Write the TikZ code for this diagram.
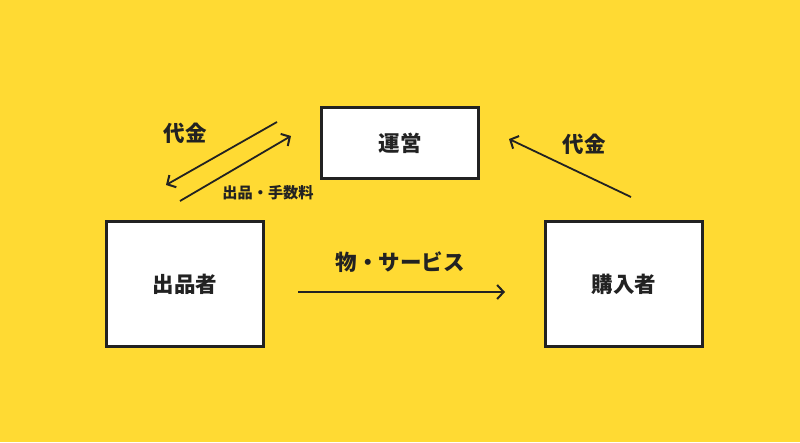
\documentclass[tikz,border=0pt]{standalone}
\usepackage{fontspec}
\usepackage{tikz}
\usetikzlibrary{arrows.meta, positioning}
\newfontfamily\jpfont{Noto Sans CJK JP}
\definecolor{bgyellow}{RGB}{255,218,51}
\definecolor{inkdark}{RGB}{34,34,34}
\tikzset{
    actorbox/.style={rectangle, draw=inkdark, fill=white, line width=3pt, minimum width=157pt, minimum height=#1, align=center, font=\jpfont\bfseries\fontsize{21.5}{24}\selectfont, text=inkdark},
    flowarrow/.style={-{Straight Barb[length=6.5pt, width=14pt, line width=2pt]}, line width=1.8pt, inkdark},
    flowlabel/.style={font=\jpfont\bfseries\fontsize{21.5}{24}\selectfont, text=inkdark},
    smalllabel/.style={font=\jpfont\bfseries\fontsize{15.2}{18}\selectfont, text=inkdark}
}

\begin{document}
\begin{tikzpicture}[x=1pt, y=-1pt]

\fill[bgyellow] (0,0) rectangle (800,442);
\useasboundingbox (0,0) rectangle (800,442);

\node[actorbox=71pt] (unei) at (400,143) {運営};
\node[actorbox=125pt] (seller) at (185,284) {出品者};
\node[actorbox=125pt] (buyer) at (624,284) {購入者};

\coordinate (goodsS) at (298,292);
\coordinate (goodsE) at (505,292);
\coordinate (payS) at (277,122);
\coordinate (payE) at (166,185);
\coordinate (feeS) at (180,201);
\coordinate (feeE) at (291,136);
\coordinate (buyS) at (631,197);
\coordinate (buyE) at (509,139);

\draw[flowarrow] (goodsS) -- (goodsE);
\draw[flowarrow] (payS) -- (payE);
\draw[flowarrow] (feeS) -- (feeE);
\draw[flowarrow] (buyS) -- (buyE);

\node[flowlabel] (goods) at (400,262) {物・サービス};
\node[flowlabel] (payL) at (185,133) {代金};
\node[flowlabel] (payR) at (584,144) {代金};
\node[smalllabel] (fee) at (268,193) {出品・手数料};

\end{tikzpicture}
\end{document}
